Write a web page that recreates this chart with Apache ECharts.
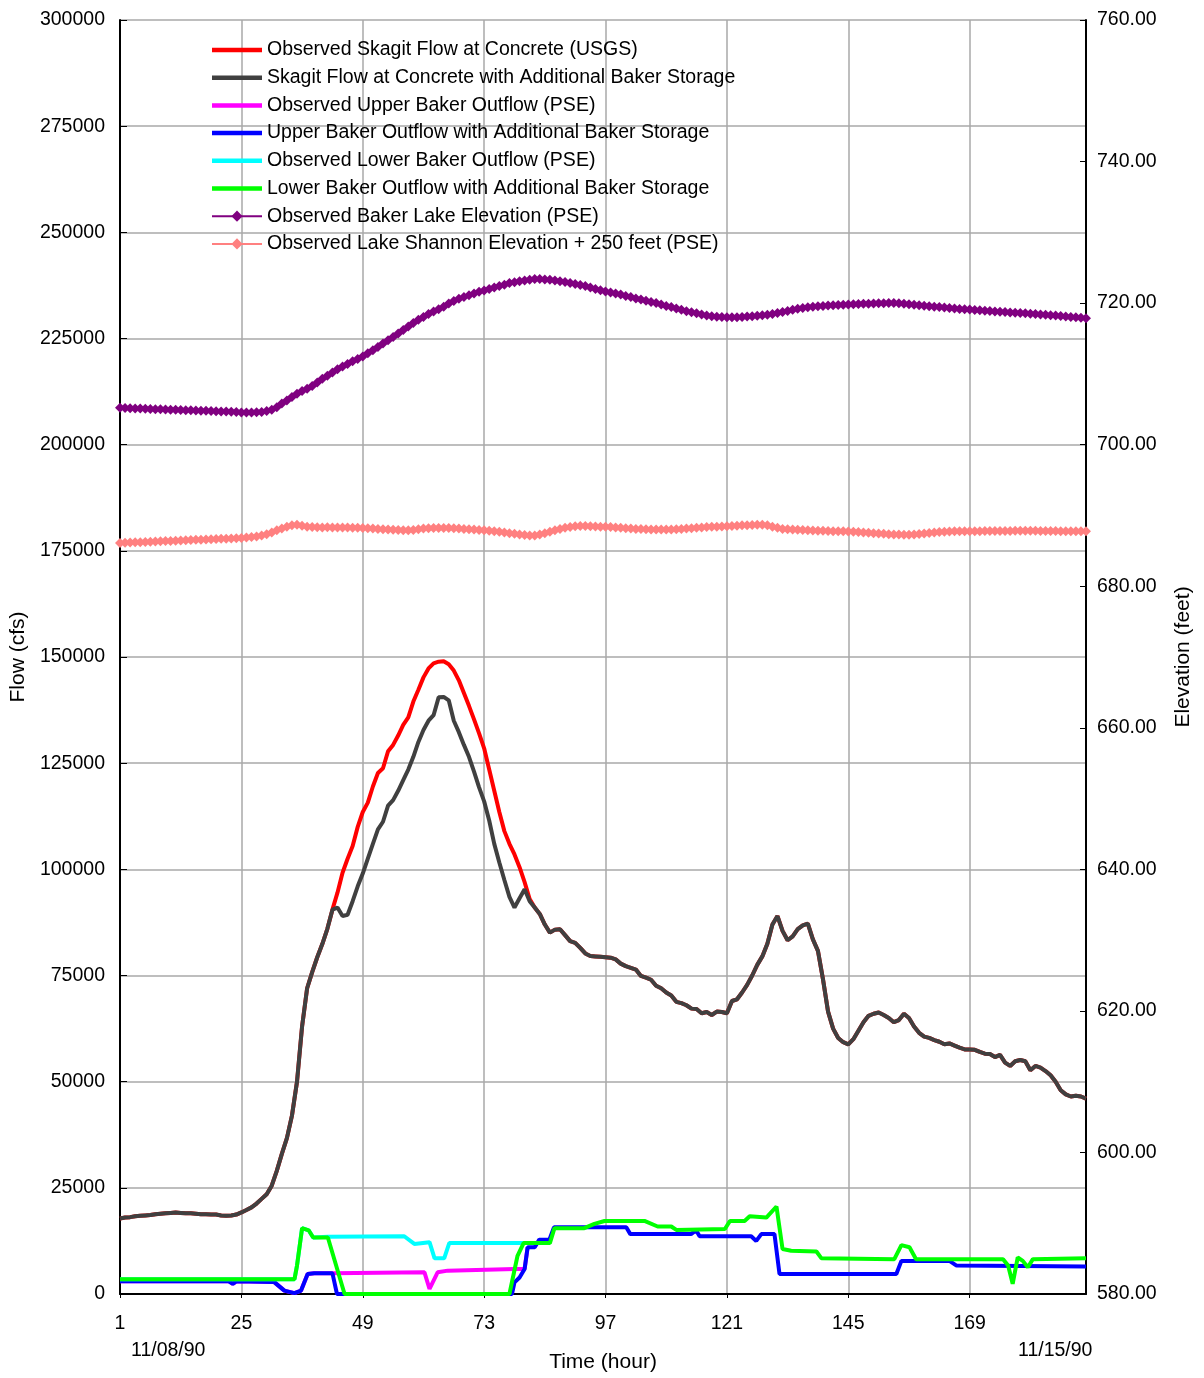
<!DOCTYPE html>
<html><head><meta charset="utf-8">
<script src="https://cdn.jsdelivr.net/npm/echarts@6/dist/echarts.min.js"></script>
<style>html,body{margin:0;padding:0;background:#fff}#c{width:1204px;height:1378px}</style>
</head><body><div id="c"></div>
<script>
// hours 1..192
const skagitModified = [17800,18000,18100,18300,18400,18500,18600,18800,18900,19000,19100,19200,19100,19000,19000,18900,18800,18800,18700,18700,18500,18400,18500,18700,19200,19800,20400,21300,22400,23500,25500,29000,33000,36700,42000,50000,63000,72000,75800,79300,82400,86000,90500,91000,89000,89300,92500,96000,99000,102500,106000,109400,111200,115000,116300,118500,121000,123500,126500,130000,132800,135000,136300,140500,140600,139800,135000,132300,129300,126500,123000,119300,116000,111500,106000,101600,97500,93500,91000,93200,95300,92500,91000,89500,87000,85100,85800,85900,84500,83100,82700,81500,80200,79600,79500,79400,79300,79200,78800,77800,77200,76800,76400,74900,74500,74000,72600,72000,71000,70300,68800,68500,68000,67200,67100,66100,66400,65700,66500,66400,66100,69000,69400,71000,72800,75000,77500,79500,82500,87000,89000,85500,83300,84200,85900,86800,87200,83500,80800,74100,66500,62500,60300,59300,58800,60000,62000,64000,65500,66000,66300,65700,65000,64000,64500,66000,65000,63000,61500,60600,60300,59800,59400,58800,59000,58500,58000,57600,57600,57500,57000,56600,56500,55800,56300,54500,53700,54800,55100,54800,52700,53700,53300,52500,51500,50000,48000,47000,46500,46700,46500,46000];
const skagitObserved = [17800,18000,18100,18300,18400,18500,18600,18800,18900,19000,19100,19200,19100,19000,19000,18900,18800,18800,18700,18700,18500,18400,18500,18700,19200,19800,20400,21300,22400,23500,25500,29000,33000,36700,42000,50000,63000,72000,75800,79300,82400,86000,90500,94500,99200,102500,105500,110000,113500,115700,119500,122700,123800,127800,129300,131500,134000,135800,139500,142300,145200,147300,148500,148900,149000,148300,146800,144500,141500,138500,135300,132000,128500,123500,118500,113500,109000,106000,103500,100500,97000,93000,91000,89500,87000,85100,85800,85900,84500,83100,82700,81500,80200,79600,79500,79400,79300,79200,78800,77800,77200,76800,76400,74900,74500,74000,72600,72000,71000,70300,68800,68500,68000,67200,67100,66100,66400,65700,66500,66400,66100,69000,69400,71000,72800,75000,77500,79500,82500,87000,89000,85500,83300,84200,85900,86800,87200,83500,80800,74100,66500,62500,60300,59300,58800,60000,62000,64000,65500,66000,66300,65700,65000,64000,64500,66000,65000,63000,61500,60600,60300,59800,59400,58800,59000,58500,58000,57600,57600,57500,57000,56600,56500,55800,56300,54500,53700,54800,55100,54800,52700,53700,53300,52500,51500,50000,48000,47000,46500,46700,46500,46000];
// [hour, cfs]
const upperObserved = [[1,3000],[22.5,3000],[23.3,2400],[24,3000],[31.5,2800],[33.5,800],[35.5,200],[36.8,800],[38.1,4700],[39.4,4900],[43,4900],[61.2,5100],[62.2,1200],[63.8,5100],[65.8,5500],[79,5900],[81,5900],[81.6,11000]];
const upperModified = [[1,3000],[22.5,3000],[23.3,2400],[24,3000],[31.5,2800],[33.5,800],[35.5,200],[36.8,800],[38.1,4700],[39.4,4900],[43,4900],[43.9,0],[78.5,0],[79,2750],[80,3900],[81,5900],[81.6,11000],[83,11000],[83.9,12800],[85.9,12800],[86.8,15700],[101.1,15700],[101.9,14100],[113.9,14100],[114.9,15000],[115.6,13600],[125.8,13600],[126.8,12500],[127.8,14100],[130.4,14100],[131.4,4700],[154.5,4700],[155.5,7800],[165,7800],[166.4,6700],[192,6500]];
const lowerObserved = [[1,3500],[35.5,3500],[36,6700],[37,15500],[38.3,15000],[39.2,13300],[42.1,13500],[57.2,13600],[59.2,11800],[62.2,12200],[63.2,8400],[65.1,8400],[66.1,12000],[80.8,12000],[86,12000]];
const lowerModified = [[1,3500],[35.5,3500],[36,6700],[37,15500],[38.3,15000],[39.2,13300],[42.1,13300],[45.4,0],[78,0],[79.6,9000],[80.8,12000],[86,12000],[86.9,15500],[92.8,15500],[94.8,16500],[96.8,17200],[104.7,17200],[107.3,15900],[110,15900],[111,15100],[120.6,15300],[121.6,17200],[124.5,17200],[125.5,18300],[128.8,18000],[130.8,20600],[132,10600],[133.7,10200],[138.7,10000],[139.7,8400],[154.1,8200],[155.5,11500],[157.1,11000],[158.4,8200],[175.6,8200],[176.6,6700],[177.5,2400],[178.5,8600],[179.5,7800],[180.5,6300],[181.5,8200],[192,8400]];
// hourly elevations (feet), hours 1..192
const bakerLake = [705.20,705.18,705.15,705.12,705.10,705.08,705.05,705.02,705.00,704.98,704.95,704.92,704.90,704.88,704.85,704.82,704.80,704.78,704.75,704.72,704.70,704.68,704.65,704.60,704.55,704.55,704.55,704.58,704.62,704.75,704.95,705.30,705.80,706.25,706.75,707.20,707.60,707.90,708.30,708.80,709.30,709.75,710.20,710.65,711.06,711.40,711.80,712.10,712.47,712.90,713.35,713.80,714.30,714.75,715.21,715.70,716.20,716.70,717.20,717.65,718.05,718.45,718.80,719.15,719.50,719.95,720.30,720.60,720.85,721.10,721.35,721.60,721.79,722.00,722.20,722.40,722.60,722.83,722.95,723.10,723.20,723.30,723.39,723.40,723.35,723.30,723.20,723.10,723.00,722.83,722.70,722.55,722.40,722.20,721.98,721.80,721.65,721.50,721.35,721.20,721.00,720.85,720.65,720.50,720.35,720.15,720.00,719.80,719.60,719.45,719.25,719.05,718.85,718.70,718.55,718.40,718.25,718.15,718.08,718.03,718.00,718.00,718.02,718.05,718.10,718.15,718.20,718.28,718.35,718.45,718.60,718.75,718.90,719.05,719.20,719.30,719.40,719.48,719.55,719.60,719.65,719.70,719.75,719.78,719.82,719.85,719.88,719.90,719.92,719.95,719.97,719.98,720.00,720.00,719.98,719.92,719.85,719.78,719.70,719.62,719.55,719.50,719.45,719.38,719.32,719.25,719.18,719.12,719.08,719.03,718.98,718.93,718.88,718.83,718.78,718.73,718.68,718.64,718.60,718.55,718.50,718.45,718.40,718.35,718.30,718.25,718.18,718.12,718.05,718.00,717.92,717.85];
const lakeShannon = [686.12,686.15,686.18,686.20,686.23,686.26,686.29,686.32,686.35,686.38,686.40,686.43,686.46,686.49,686.52,686.55,686.57,686.60,686.63,686.66,686.69,686.72,686.75,686.79,686.83,686.88,686.95,687.03,687.15,687.35,687.60,687.90,688.15,688.40,688.60,688.70,688.55,688.40,688.35,688.32,688.30,688.32,688.30,688.28,688.30,688.28,688.26,688.25,688.24,688.20,688.15,688.10,688.05,688.00,687.98,687.95,687.92,687.90,687.95,688.05,688.15,688.20,688.22,688.24,688.24,688.22,688.20,688.15,688.10,688.05,688.00,687.95,687.90,687.85,687.78,687.70,687.60,687.50,687.40,687.30,687.22,687.15,687.18,687.30,687.50,687.70,687.90,688.10,688.25,688.38,688.47,688.50,688.50,688.47,688.45,688.42,688.40,688.35,688.30,688.25,688.20,688.15,688.10,688.08,688.05,688.02,688.00,688.00,688.00,688.00,688.05,688.10,688.15,688.20,688.25,688.30,688.35,688.40,688.42,688.45,688.47,688.50,688.55,688.60,688.62,688.65,688.68,688.70,688.60,688.40,688.25,688.10,688.05,688.00,687.98,687.95,687.90,687.88,687.85,687.83,687.80,687.78,687.77,687.76,687.74,687.70,687.65,687.60,687.55,687.50,687.45,687.40,687.35,687.32,687.30,687.29,687.29,687.32,687.38,687.45,687.52,687.60,687.65,687.70,687.73,687.76,687.76,687.76,687.77,687.78,687.78,687.79,687.80,687.80,687.80,687.81,687.81,687.82,687.82,687.82,687.82,687.82,687.81,687.80,687.80,687.79,687.78,687.78,687.77,687.77,687.76,687.76];

const seriesNames = ['Observed Skagit Flow at Concrete (USGS)','Skagit Flow at Concrete with Additional Baker Storage','Observed Upper Baker Outflow (PSE)','Upper Baker Outflow with Additional Baker Storage','Observed Lower Baker Outflow (PSE)','Lower Baker Outflow with Additional Baker Storage','Observed Baker Lake Elevation (PSE)','Observed Lake Shannon Elevation + 250 feet (PSE)'];
const flowTicks = {min:0, max:300000, interval:25000};
const elevTicks = {min:580, max:760, interval:20};

const FONT = "'Liberation Sans', Arial, sans-serif";
const byHour = arr => arr.map((v,i)=>[i+1,v]);
// thick line legend icon (50 x 14 box, bar 4.5px high in the middle)
const BAR_ICON = 'path://M0,0L0,0ZM0,4.75L50,4.75L50,9.25L0,9.25ZM50,14L50,14Z';
function flowLine(name, data, color){
  return {name, type:'line', data, yAxisIndex:0, symbol:'none', showSymbol:false,
    lineStyle:{color, width:4}, itemStyle:{color}};
}
function elevLine(name, data, color){
  return {name, type:'line', data, yAxisIndex:1, symbol:'diamond', symbolSize:10,
    lineStyle:{color, width:2.5}, itemStyle:{color}};
}
const chart = echarts.init(document.getElementById('c'), null, {renderer:'canvas'});
chart.setOption({
  animation:false,
  backgroundColor:'#fff',
  textStyle:{fontFamily:FONT},
  grid:{left:120, right:118, top:20, bottom:83, containLabel:false},
  legend:{
    orient:'vertical', left:206, top:35, itemWidth:50, itemHeight:14, itemGap:7.7,
    textStyle:{fontFamily:FONT, fontSize:19.5, color:'#000'},
    data:seriesNames.map((n,i)=> i<6 ? {name:n, icon:BAR_ICON} : {name:n})
  },
  xAxis:{
    type:'value', min:1, max:192, interval:24,
    name:'Time (hour)', nameLocation:'middle', nameGap:58,
    nameTextStyle:{fontFamily:FONT, fontSize:21, color:'#000'},
    axisLine:{lineStyle:{color:'#000', width:2}},
    axisTick:{show:true, length:4, lineStyle:{color:'#000'}},
    axisLabel:{fontFamily:FONT, fontSize:19.5, color:'#000', margin:20, showMaxLabel:false},
    splitLine:{show:true, lineStyle:{color:'#a8a8a8', width:1.5}}
  },
  yAxis:[
    {type:'value', min:flowTicks.min, max:flowTicks.max, interval:flowTicks.interval, position:'left',
      name:'Flow (cfs)', nameLocation:'middle', nameGap:85, nameRotate:90,
      nameTextStyle:{fontFamily:FONT, fontSize:21, color:'#000'},
      axisLine:{show:true, lineStyle:{color:'#000', width:2}},
      axisTick:{show:true, inside:true, length:7, lineStyle:{color:'#000'}},
      axisLabel:{fontFamily:FONT, fontSize:19.5, color:'#000', margin:15, formatter:v=>String(v)},
      splitLine:{show:true, lineStyle:{color:'#a8a8a8', width:1.5}}},
    {type:'value', min:elevTicks.min, max:elevTicks.max, interval:elevTicks.interval, position:'right',
      name:'Elevation (feet)', nameLocation:'middle', nameGap:87, nameRotate:90,
      nameTextStyle:{fontFamily:FONT, fontSize:21, color:'#000'},
      axisLine:{show:true, lineStyle:{color:'#000', width:2}},
      axisTick:{show:true, inside:true, length:6, lineStyle:{color:'#000'}},
      axisLabel:{fontFamily:FONT, fontSize:19.5, color:'#000', margin:11, formatter:v=>v.toFixed(2)},
      splitLine:{show:false}}
  ],
  graphic:[
    {type:'text', left:131, top:1341, style:{text:'11/08/90', font:'19.5px '+FONT, fill:'#000'}},
    {type:'text', left:1018, top:1341, style:{text:'11/15/90', font:'19.5px '+FONT, fill:'#000'}}
  ],
  series:[
    flowLine(seriesNames[0], byHour(skagitObserved), '#ff0000'),
    flowLine(seriesNames[1], byHour(skagitModified), '#404040'),
    flowLine(seriesNames[2], upperObserved, '#ff00ff'),
    flowLine(seriesNames[3], upperModified, '#0000ff'),
    flowLine(seriesNames[4], lowerObserved, '#00ffff'),
    flowLine(seriesNames[5], lowerModified, '#00ff00'),
    elevLine(seriesNames[6], byHour(bakerLake), '#800080'),
    elevLine(seriesNames[7], byHour(lakeShannon), '#ff8080')
  ]
});
</script></body></html>
